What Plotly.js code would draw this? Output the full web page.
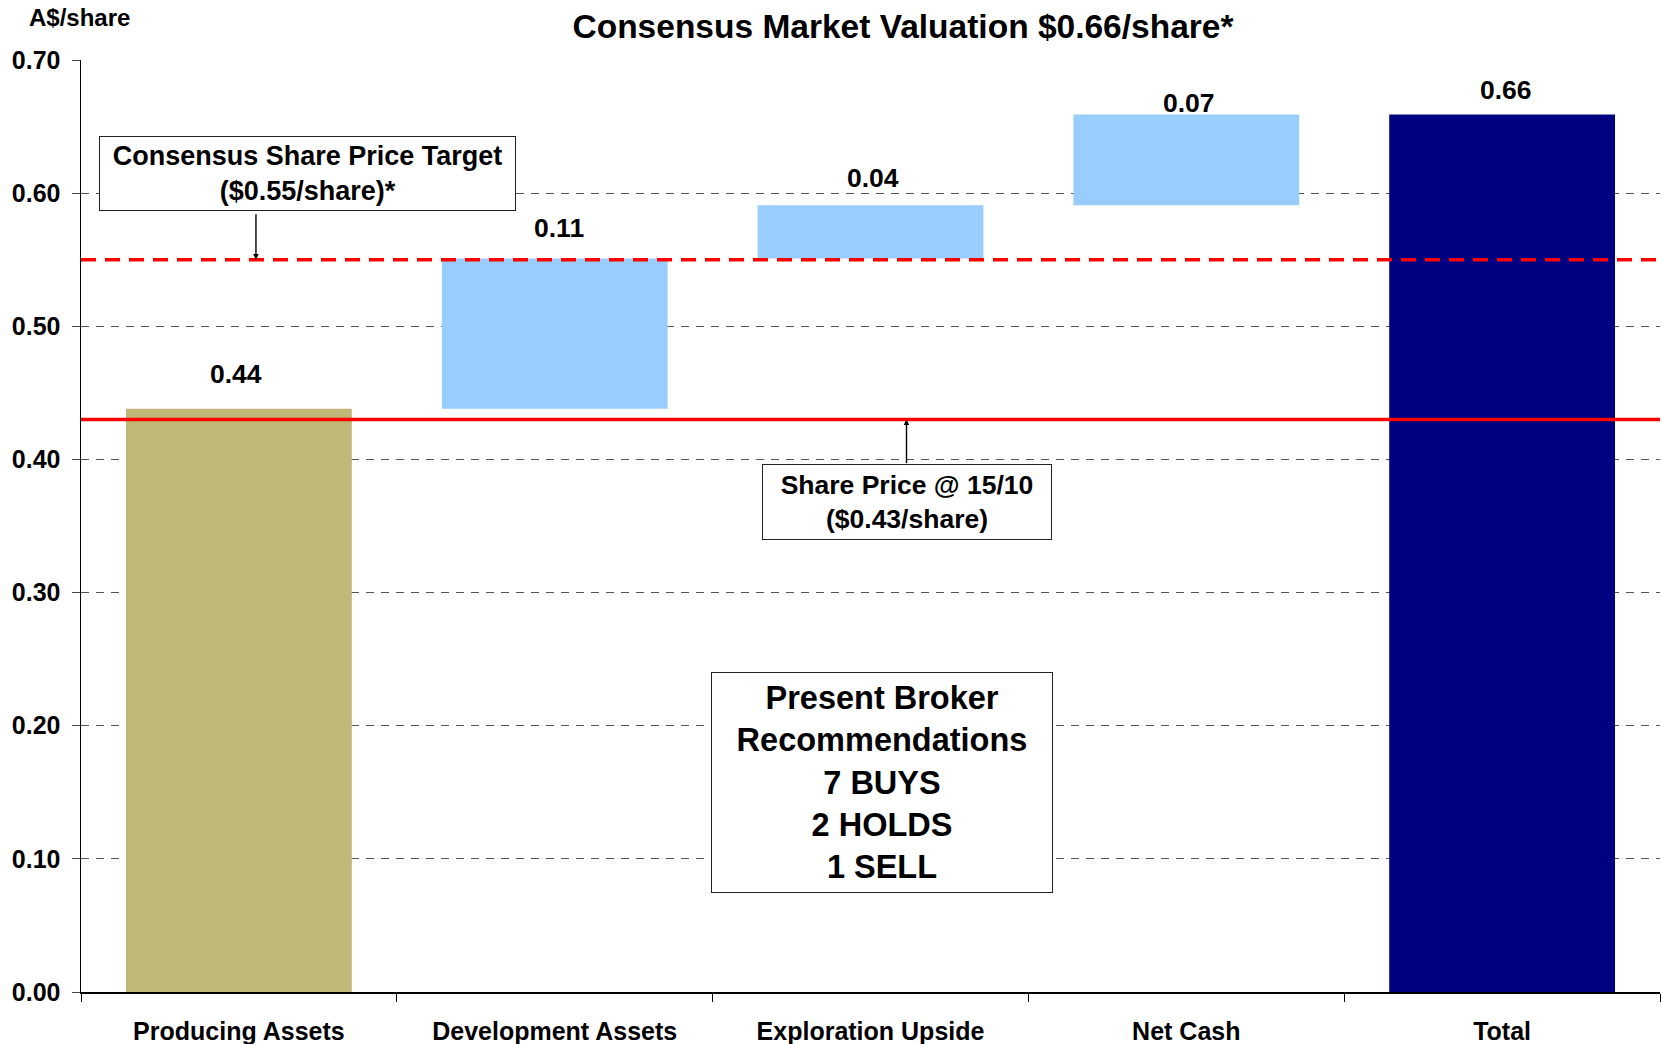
<!DOCTYPE html>
<html>
<head>
<meta charset="utf-8">
<script src="https://cdn.plot.ly/plotly-3.0.1.min.js"></script>
<style>html,body{margin:0;padding:0;background:#fff;}#chart{width:1662px;height:1044px;}</style>
</head>
<body>
<div id="chart"></div>
<script>
// ---- data ----
const categories = ["Producing Assets", "Development Assets", "Exploration Upside", "Net Cash", "Total"];
const barBase    = [0, 0.438, 0.551, 0.591, 0];
const barHeight  = [0.438, 0.113, 0.040, 0.068, 0.659];
const valueLabels = ["0.44", "0.11", "0.04", "0.07", "0.66"];
const sharePrice = 0.43;
const targetPrice = 0.55;
const yTickVals = [0, 0.1, 0.2, 0.3, 0.4, 0.5, 0.6, 0.7];
const yTickText = ["0.00", "0.10", "0.20", "0.30", "0.40", "0.50", "0.60", "0.70"];

// ---- style ----
const barColors = ["#BFB877", "#99CCFF", "#99CCFF", "#99CCFF", "#000080"];
const labelShiftY = [35, 30, 27, 12, 25];
const labelShiftX = [-3, 4, 2, 3, 4];
const FONT = "Liberation Sans, Arial, Helvetica, sans-serif";

const trace = {
  type: "bar",
  x: categories,
  y: barHeight,
  base: barBase,
  marker: { color: barColors, line: { width: 0 } },
  hoverinfo: "skip",
  showlegend: false
};

const annotations = [];
categories.forEach((c, i) => {
  annotations.push({
    x: c, y: barBase[i] + barHeight[i], xref: "x", yref: "y",
    text: valueLabels[i], showarrow: false, yanchor: "middle",
    yshift: labelShiftY[i], xshift: labelShiftX[i],
    font: { family: FONT, size: 26.5, color: "#000", weight: 700 }
  });
});

// callout boxes
annotations.push({
  x: 0.217, y: 0.615, xref: "x", yref: "y",
  text: "Consensus Share Price Target<br>($0.55/share)*", showarrow: false,
  width: 415, height: 73, borderpad: 0, borderwidth: 1, bordercolor: "#222", bgcolor: "#fff",
  font: { family: FONT, size: 27, color: "#000", weight: 700 }
});
annotations.push({
  x: 0.054, y: targetPrice, xref: "x", yref: "y", text: "",
  showarrow: true, ax: 0, ay: -47, arrowhead: 2, arrowsize: 0.8, arrowwidth: 1.4, arrowcolor: "#000"
});
annotations.push({
  x: 2.117, y: 0.368, xref: "x", yref: "y",
  text: "Share Price @ 15/10<br>($0.43/share)", showarrow: false,
  width: 288, height: 74, borderpad: 0, borderwidth: 1, bordercolor: "#222", bgcolor: "#fff",
  font: { family: FONT, size: 26.5, color: "#000", weight: 700 }
});
annotations.push({
  x: 2.114, y: sharePrice, xref: "x", yref: "y", text: "",
  showarrow: true, ax: 0, ay: 45, arrowhead: 2, arrowsize: 0.8, arrowwidth: 1.4, arrowcolor: "#000"
});
annotations.push({
  x: 2.035, y: 0.157, xref: "x", yref: "y",
  text: "Present Broker<br>Recommendations<br>7 BUYS<br>2 HOLDS<br>1 SELL", showarrow: false,
  width: 340, height: 219, borderpad: 0, borderwidth: 1, bordercolor: "#222", bgcolor: "#fff",
  font: { family: FONT, size: 32.5, color: "#000", weight: 700 }
});
// y unit label
annotations.push({
  x: 28, y: 17, xref: "paper", yref: "paper", text: "A$/share", showarrow: false,
  font: { family: FONT, size: 24, color: "#000", weight: 700 }
});

const layout = {
  width: 1662, height: 1044,
  margin: { l: 81, r: 2, t: 60, b: 52 },
  paper_bgcolor: "#fff", plot_bgcolor: "#fff",
  bargap: 0.285,
  title: {
    text: "Consensus Market Valuation $0.66/share*",
    x: 903 / 1662, xref: "container", xanchor: "center",
    y: 1 - 26.5 / 1044, yref: "container", yanchor: "middle",
    font: { family: FONT, size: 33.5, color: "#000", weight: 700 }
  },
  xaxis: {
    type: "category", range: [-0.5, 4.5],
    tickson: "boundaries", ticks: "outside", ticklen: 8, tickcolor: "#000", tickwidth: 1,
    showline: true, linecolor: "#000", linewidth: 1.5, showgrid: false,
    tickfont: { family: FONT, size: 25, color: "#000", weight: 700 },
    ticklabelstandoff: 16
  },
  yaxis: {
    range: [0, 0.7], tickvals: yTickVals, ticktext: yTickText,
    ticks: "outside", ticklen: 8, tickcolor: "#444", tickwidth: 1,
    showline: true, linecolor: "#000", linewidth: 1.5,
    showgrid: true, gridcolor: "#555", gridwidth: 1, griddash: "8px,7px",
    zeroline: false,
    tickfont: { family: FONT, size: 25, color: "#000", weight: 700 },
    ticklabelstandoff: 6
  },
  shapes: [
    { type: "line", xref: "paper", yref: "y", x0: 0, x1: 1, y0: sharePrice, y1: sharePrice,
      line: { color: "#FF0000", width: 3.5 } },
    { type: "line", xref: "paper", yref: "y", x0: 0, x1: 1, y0: targetPrice, y1: targetPrice,
      line: { color: "#FF0000", width: 3.5, dash: "15px,9px" } }
  ],
  annotations: annotations
};

// place the A$/share label in pixel terms relative to paper
const plotW = 1662 - 81 - 2, plotH = 1044 - 60 - 52;
const unit = annotations[annotations.length - 1];
unit.x = (27 - 81) / plotW; unit.xanchor = "left";
unit.y = 1 + (60 - 17) / plotH; unit.yanchor = "middle";

Plotly.newPlot("chart", [trace], layout, { displayModeBar: false, staticPlot: true });
</script>
</body>
</html>
